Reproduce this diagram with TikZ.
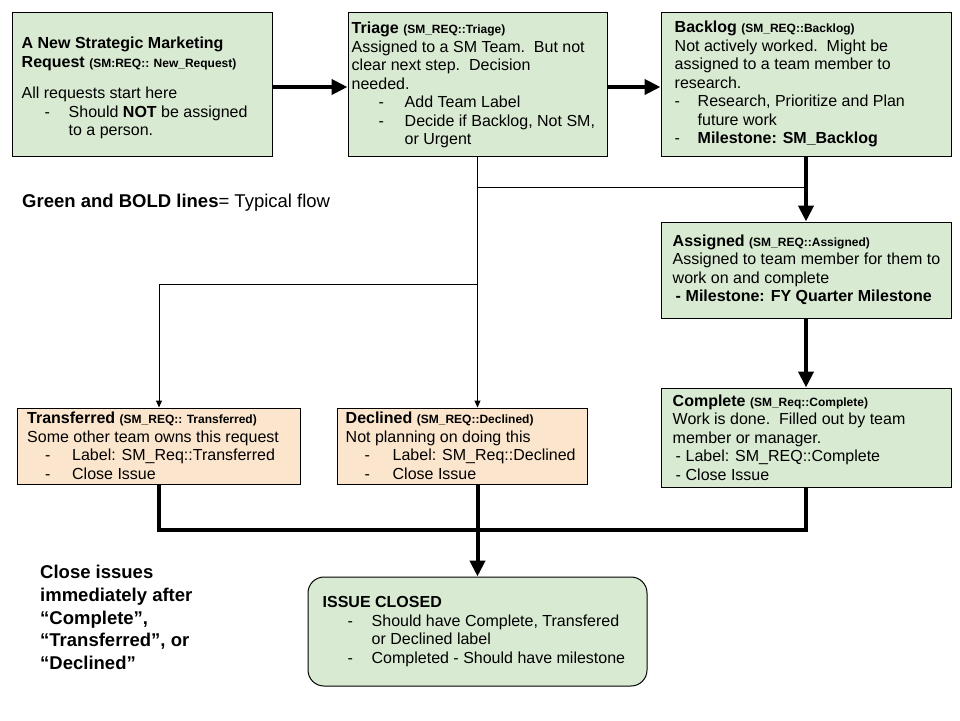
\documentclass[tikz,border=0pt]{standalone}
\usepackage{fontspec}
\setmainfont{Liberation Sans}
\usetikzlibrary{arrows.meta}
\definecolor{gfill}{HTML}{D9EAD3}
\definecolor{ofill}{HTML}{FCE5CD}
\newcommand\smb[1]{{\fontsize{12}{14}\selectfont\bfseries #1}}
\newcommand\dsh[3]{\hspace*{#1}\makebox[#2][l]{-}#3}
\begin{document}
\begin{tikzpicture}[x=1pt,y=-1pt,
  box/.style={draw=black, line width=1pt, inner sep=0pt},
  gbox/.style={box, fill=gfill},
  obox/.style={box, fill=ofill},
  btext/.style={align=left, anchor=west, inner sep=0pt,
    font=\fontsize{16}{18.5}\selectfont},
  flowline/.style={line width=4pt, line join=miter},
  flow/.style={flowline, -{Triangle[length=16pt,width=15pt]}},
  side/.style={line width=1pt},
  sidearrow/.style={side, -{Triangle[length=7pt,width=6pt]}},
  note/.style={align=left, anchor=north west, inner sep=0pt}]
\fill[white] (0,0) rectangle (960,720);
\useasboundingbox (0,0) rectangle (960,720);

% boxes
\node[gbox, minimum width=260pt, minimum height=144pt] (new) at (142,84) {};
\node[btext] (new-t) at ([xshift=10pt,yshift=-4pt]new.west) {%
\textbf{A New Strategic Marketing}\\
\textbf{Request} \smb{(SM:REQ:: New\_Request)}\\[13pt]
All requests start here\\
\dsh{23pt}{24pt}{Should \textbf{NOT} be assigned}\\
\hspace*{47pt}to a person.};

\node[gbox, minimum width=259pt, minimum height=144pt] (triage) at (477.5,84) {};
\node[btext] (triage-t) at ([xshift=4pt,yshift=-1pt]triage.west) {%
\textbf{Triage} \smb{(SM\_REQ::Triage)}\\
Assigned to a SM Team.\ \ But not\\
clear next step.\ \ Decision\\
needed.\\
\dsh{27pt}{26pt}{Add Team Label}\\
\dsh{27pt}{26pt}{Decide if Backlog, Not SM,}\\
\hspace*{53pt}or Urgent};

\node[gbox, minimum width=290pt, minimum height=144pt] (backlog) at (806,84) {};
\node[btext] (backlog-t) at ([xshift=14pt]backlog.west) {%
\textbf{Backlog} \smb{(SM\_REQ::Backlog)}\\
Not actively worked.\ \ Might be\\
assigned to a team member to\\
research.\\
\dsh{0pt}{23pt}{Research, Prioritize and Plan}\\
\hspace*{23pt}future work\\
\dsh{0pt}{23pt}{\textbf{Milestone: SM\_Backlog}}};

\node[gbox, minimum width=290pt, minimum height=96pt] (assigned) at (806,270) {};
\node[btext] (assigned-t) at ([xshift=12pt]assigned.west) {%
\textbf{Assigned} \smb{(SM\_REQ::Assigned)}\\
Assigned to team member for them to\\
work on and complete\\
\bfseries\dsh{3pt}{10pt}{Milestone: FY Quarter Milestone}};

\node[gbox, minimum width=290pt, minimum height=99pt] (complete) at (806,437.5) {};
\node[btext] (complete-t) at ([xshift=12pt]complete.west) {%
\textbf{Complete} \smb{(SM\_Req::Complete)}\\
Work is done.\ \ Filled out by team\\
member or manager.\\
\dsh{3pt}{10pt}{Label: SM\_REQ::Complete}\\
\dsh{3pt}{10pt}{Close Issue}};

\node[obox, minimum width=283pt, minimum height=76pt] (transferred) at (159,446) {};
\node[btext] (transferred-t) at ([xshift=10pt]transferred.west) {%
\textbf{Transferred} \smb{(SM\_REQ:: Transferred)}\\
Some other team owns this request\\
\dsh{18pt}{27pt}{Label: SM\_Req::Transferred}\\
\dsh{18pt}{27pt}{Close Issue}};

\node[obox, minimum width=250pt, minimum height=76pt] (declined) at (462,446) {};
\node[btext] (declined-t) at ([xshift=9pt]declined.west) {%
\textbf{Declined} \smb{(SM\_REQ::Declined)}\\
Not planning on doing this\\
\dsh{19pt}{28pt}{Label: SM\_Req::Declined}\\
\dsh{19pt}{28pt}{Close Issue}};

\node[gbox, rounded corners=16pt, minimum width=339pt, minimum height=109pt] (closed) at (477.5,631.5) {};
\node[btext] (closed-t) at ([xshift=15pt]closed.west) {%
\textbf{ISSUE CLOSED}\\
\dsh{25pt}{24pt}{Should have Complete, Transfered}\\
\hspace*{49pt}or Declined label\\
\dsh{25pt}{24pt}{Completed - Should have milestone}};

% notes
\node[note, font=\fontsize{18.5}{22}\selectfont] (legend) at (22,194) {\textbf{Green and BOLD lines}= Typical flow};
\node[note, font=\fontsize{18.5}{22.7}\selectfont\bfseries] (closenote) at (40,565) {%
Close issues\\immediately after\\``Complete'',\\``Transferred'', or\\``Declined''};

% connectors
\coordinate (j1) at (477.5,187);
\coordinate (j2) at (477.5,284);
\coordinate (m) at (477.5,530);

\draw[flow] ([yshift=-3pt]new.east) -- ([yshift=-3pt]triage.west);
\draw[flow] ([yshift=-3pt]triage.east) -- ([yshift=-3pt]backlog.west);
\draw[side] (triage.south) -- (j1) -- (backlog.south |- j1);
\draw[sidearrow] (j1) -- (declined.north -| j1);
\draw[sidearrow] (j2) -| (transferred.north);
\draw[flow] (backlog.south) -- (assigned.north);
\draw[flow] (assigned.south) -- (complete.north);
\draw[flowline] (transferred.south) |- (complete.south |- m) -- (complete.south);
\draw[flowline] (declined.south -| m) -- (m);
\draw[flow] (m) -- (closed.north);
\end{tikzpicture}
\end{document}
